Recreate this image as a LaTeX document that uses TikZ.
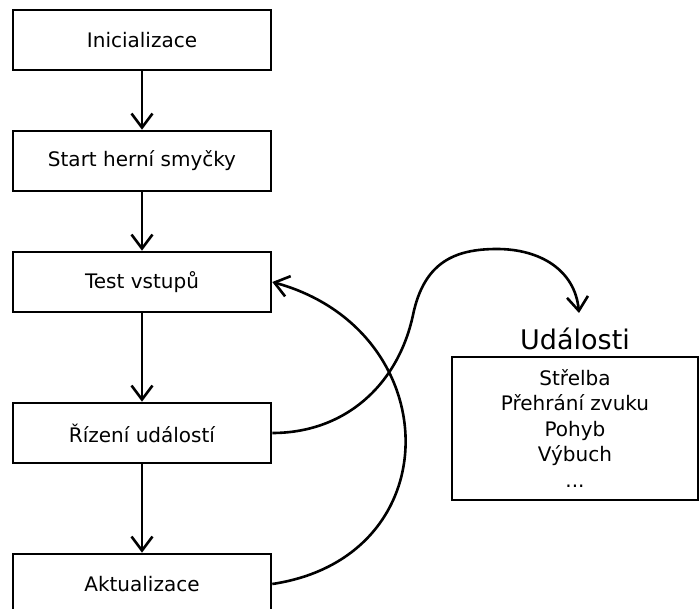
\documentclass[tikz,border=0pt]{standalone}
\usepackage{fontspec}
\setmainfont{DejaVu Sans}
\usetikzlibrary{arrows.meta}
\begin{document}
\begin{tikzpicture}[x=1pt,y=-1pt,
  stepbox/.style={draw=black,line width=2.6pt,minimum width=258pt,minimum height=60pt,inner sep=0pt,font=\fontsize{20}{25}\selectfont},
  arr/.style={line width=2.6pt,-{Straight Barb[length=14pt,width=21pt]}}]
\useasboundingbox (0,0) rectangle (699,609);
\node[stepbox] (b1) at (142,40) {Inicializace};
\node[stepbox] (b2) at (142,161) {Start herní smyčky};
\node[stepbox] (b3) at (142,282) {Test vstupů};
\node[stepbox] (b4) at (142,433) {Řízení událostí};
\node[stepbox] (b5) at (142,584) {Aktualizace};
\node[draw=black,line width=2.6pt,minimum width=246pt,minimum height=143pt,inner sep=0pt,align=center,font=\fontsize{20}{25.5}\selectfont] (ev) at (575,428.5) {Střelba\\Přehrání zvuku\\Pohyb\\Výbuch\\...};
\node[font=\fontsize{27}{32}\selectfont,inner sep=0pt] (evt) at (575,339) {Události};
\coordinate (tip) at (579,313);
\draw[arr] (b1) -- (b2);
\draw[arr] (b2) -- (b3);
\draw[arr] (b3) -- (b4);
\draw[arr] (b4) -- (b5);
\draw[arr] (b5.east) .. controls (452,557) and (447,330) .. (b3.east);
\draw[arr] (b4.east) .. controls (345,433) and (398,385) .. (413,315)
  .. controls (424,262) and (455,249) .. (497,249)
  .. controls (540,249) and (575,270) .. (tip);
\end{tikzpicture}
\end{document}
